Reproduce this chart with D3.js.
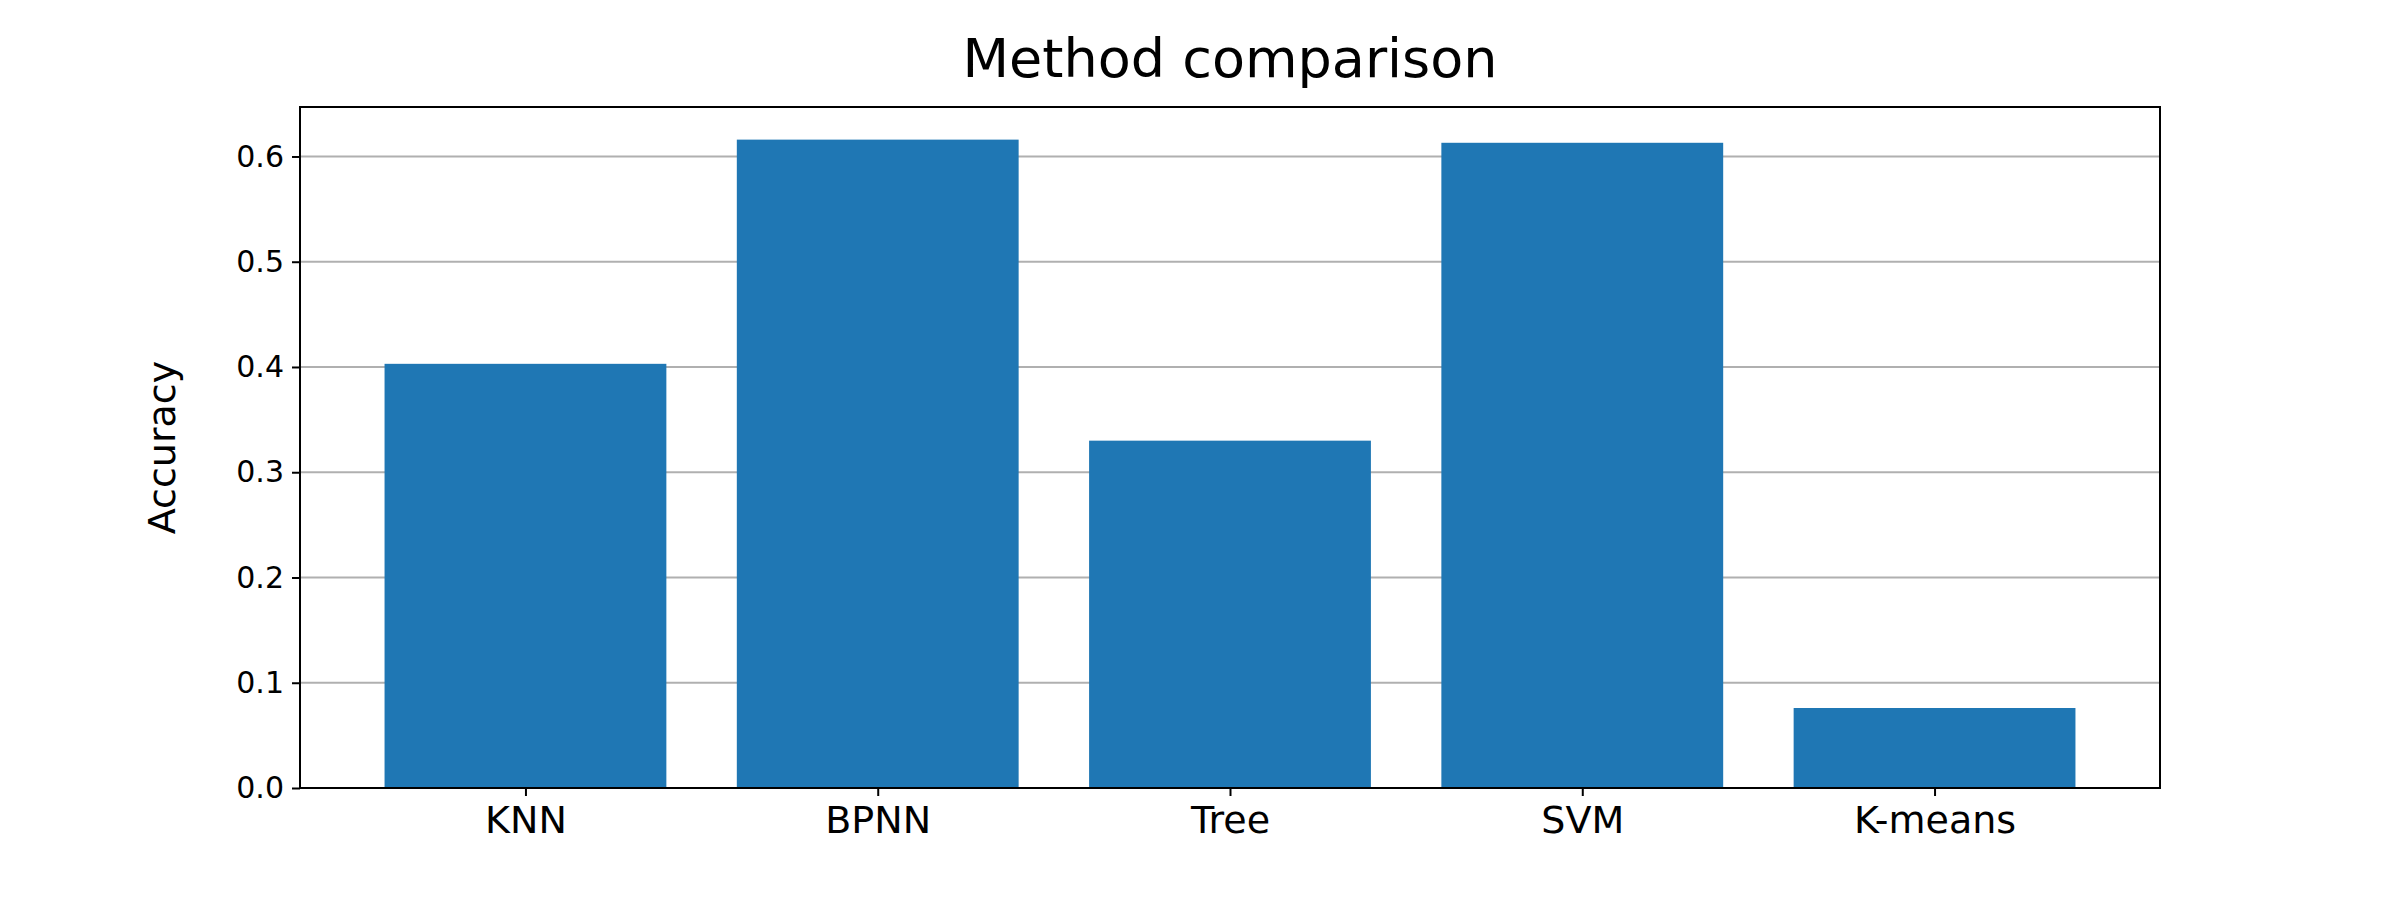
<!DOCTYPE html>
<html>
<head>
<meta charset="utf-8">
<script src="https://cdn.jsdelivr.net/npm/d3@7"></script>
<style>
  body { margin: 0; background: #fff; }
  text { font-family: "DejaVu Sans", sans-serif; }
</style>
</head>
<body>
<svg id="chart" width="2400" height="900"></svg>
<script>
const methods = ['KNN', 'BPNN', 'Tree', 'SVM', 'K-means'];
const accuracy = [0.403, 0.616, 0.330, 0.613, 0.076];
const yTicks = [0.0, 0.1, 0.2, 0.3, 0.4, 0.5, 0.6];

const margin = { left: 300, right: 240, top: 107, bottom: 112 };
const W = 2400, H = 900;
const svg = d3.select('#chart');

// matplotlib-like x limits: bar width 0.8, 5% margins
let x = d3.scaleLinear().domain([-0.64, 4.64]).range([margin.left, W - margin.right]);
let y = d3.scaleLinear().domain([0, 0.647]).range([H - margin.bottom, margin.top]);

// grid
svg.append('g').selectAll('line').data(yTicks).enter().append('line')
  .attr('x1', margin.left).attr('x2', W - margin.right)
  .attr('y1', d => y(d)).attr('y2', d => y(d))
  .attr('stroke', '#b0b0b0').attr('stroke-width', 2);

// bars
svg.append('g').selectAll('rect').data(accuracy).enter().append('rect')
  .attr('x', (d, i) => x(i - 0.4))
  .attr('width', (d, i) => x(i + 0.4) - x(i - 0.4))
  .attr('y', d => y(d))
  .attr('height', d => y(0) - y(d))
  .attr('fill', '#1f77b4');

// axes
const yAxis = d3.axisLeft(y).tickValues(yTicks).tickFormat(d3.format('.1f')).tickSizeOuter(0).tickSize(8).tickPadding(8);
const gy = svg.append('g').attr('transform', `translate(${margin.left},0)`).call(yAxis);
gy.selectAll('text').attr('font-size', 30).attr('fill', '#000');

const xAxis = d3.axisBottom(x).tickValues(d3.range(methods.length)).tickFormat(i => methods[i]).tickSizeOuter(0).tickSize(8).tickPadding(10);
const gx = svg.append('g').attr('transform', `translate(0,${H - margin.bottom})`).call(xAxis);
gx.selectAll('text').attr('font-size', 38).attr('fill', '#000');

svg.selectAll('.domain').remove();
svg.selectAll('.tick line').attr('stroke', '#000').attr('stroke-width', 2);

// frame
svg.append('rect')
  .attr('x', margin.left).attr('y', margin.top)
  .attr('width', W - margin.left - margin.right)
  .attr('height', H - margin.top - margin.bottom)
  .attr('fill', 'none').attr('stroke', '#000').attr('stroke-width', 2);

// labels
svg.append('text').attr('x', (margin.left + W - margin.right) / 2).attr('y', 77)
  .attr('text-anchor', 'middle').attr('font-size', 54).text('Method comparison');
svg.append('text')
  .attr('transform', `translate(175,${(margin.top + H - margin.bottom) / 2}) rotate(-90)`)
  .attr('text-anchor', 'middle').attr('font-size', 38).text('Accuracy');
</script>
</body>
</html>
